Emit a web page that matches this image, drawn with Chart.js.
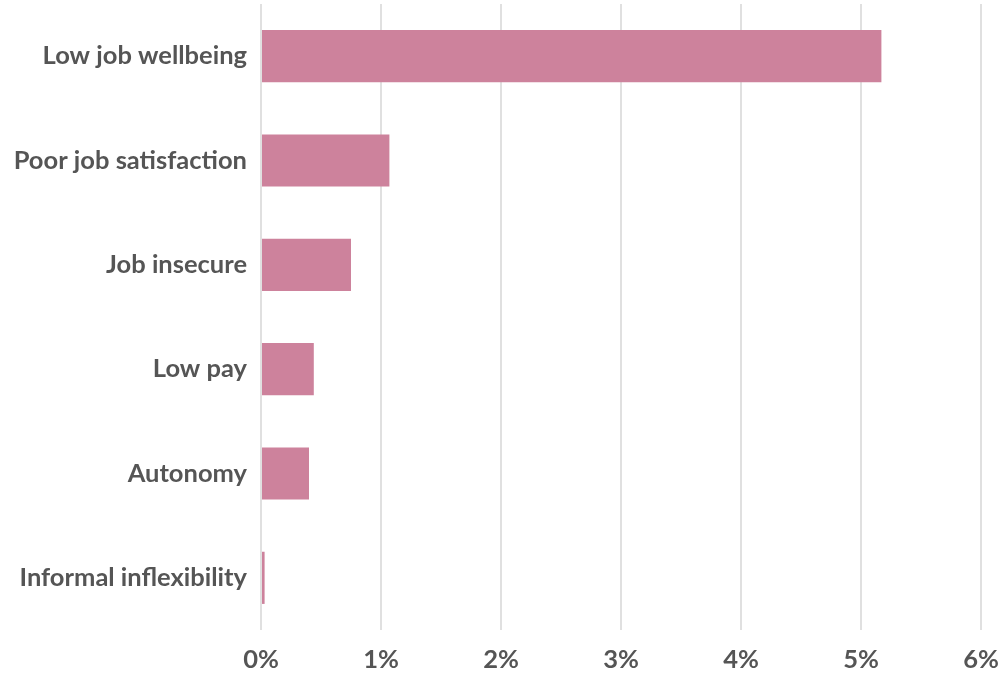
<!DOCTYPE html>
<html>
<head>
<meta charset="utf-8">
<script src="https://cdn.jsdelivr.net/npm/chart.js@4/dist/chart.umd.min.js"></script>
<style>
  html, body { margin: 0; padding: 0; background: #fff; }
  #wrap { width: 1008px; height: 674px; position: relative; }
</style>
</head>
<body>
<div id="wrap"><canvas id="chart"></canvas></div>
<script>
// ---------------------------
// Data
// ---------------------------
const categories = [
    "Low job wellbeing",
    "Poor job satisfaction",
    "Job insecure",
    "Low pay",
    "Autonomy",
    "Informal inflexibility"
];
const values = [5.17, 1.07, 0.75, 0.44, 0.40, 0.03];
const xTicks = [0, 1, 2, 3, 4, 5, 6];

const TEXT = "#555555";
const BAR = "#cd829c";
const FONT = "Lato, 'Open Sans', sans-serif";

const ctx = document.getElementById("chart").getContext("2d");

new Chart(ctx, {
    type: "bar",
    data: {
        labels: categories,
        datasets: [{
            data: values,
            backgroundColor: BAR,
            barPercentage: 0.5,
            categoryPercentage: 1
        }]
    },
    options: {
        indexAxis: "y",
        responsive: true,
        maintainAspectRatio: false,
        animation: false,
        layout: { padding: { top: 4, right: 27, bottom: 0, left: 0 } },
        plugins: { legend: { display: false }, tooltip: { enabled: false } },
        scales: {
            x: {
                min: xTicks[0],
                max: xTicks[xTicks.length - 1],
                afterBuildTicks: s => { s.ticks = xTicks.map(v => ({ value: v })); },
                afterFit: s => { s.height = 44; s.paddingLeft = 0; s.paddingRight = 0; },
                grid: { color: "#e0e0e0", lineWidth: 2, drawTicks: false },
                border: { display: false },
                ticks: {
                    padding: 14,
                    color: TEXT,
                    font: { family: FONT, size: 25.5, weight: "bold" },
                    callback: v => v + "%"
                }
            },
            y: {
                grid: { display: false, drawTicks: false },
                border: { display: false },
                afterFit: s => { s.width = 261; s.paddingTop = 0; s.paddingBottom = 0; },
                ticks: {
                    padding: 14,
                    color: TEXT,
                    font: { family: FONT, size: 25.5, weight: "bold" }
                }
            }
        }
    }
});
</script>
</body>
</html>
